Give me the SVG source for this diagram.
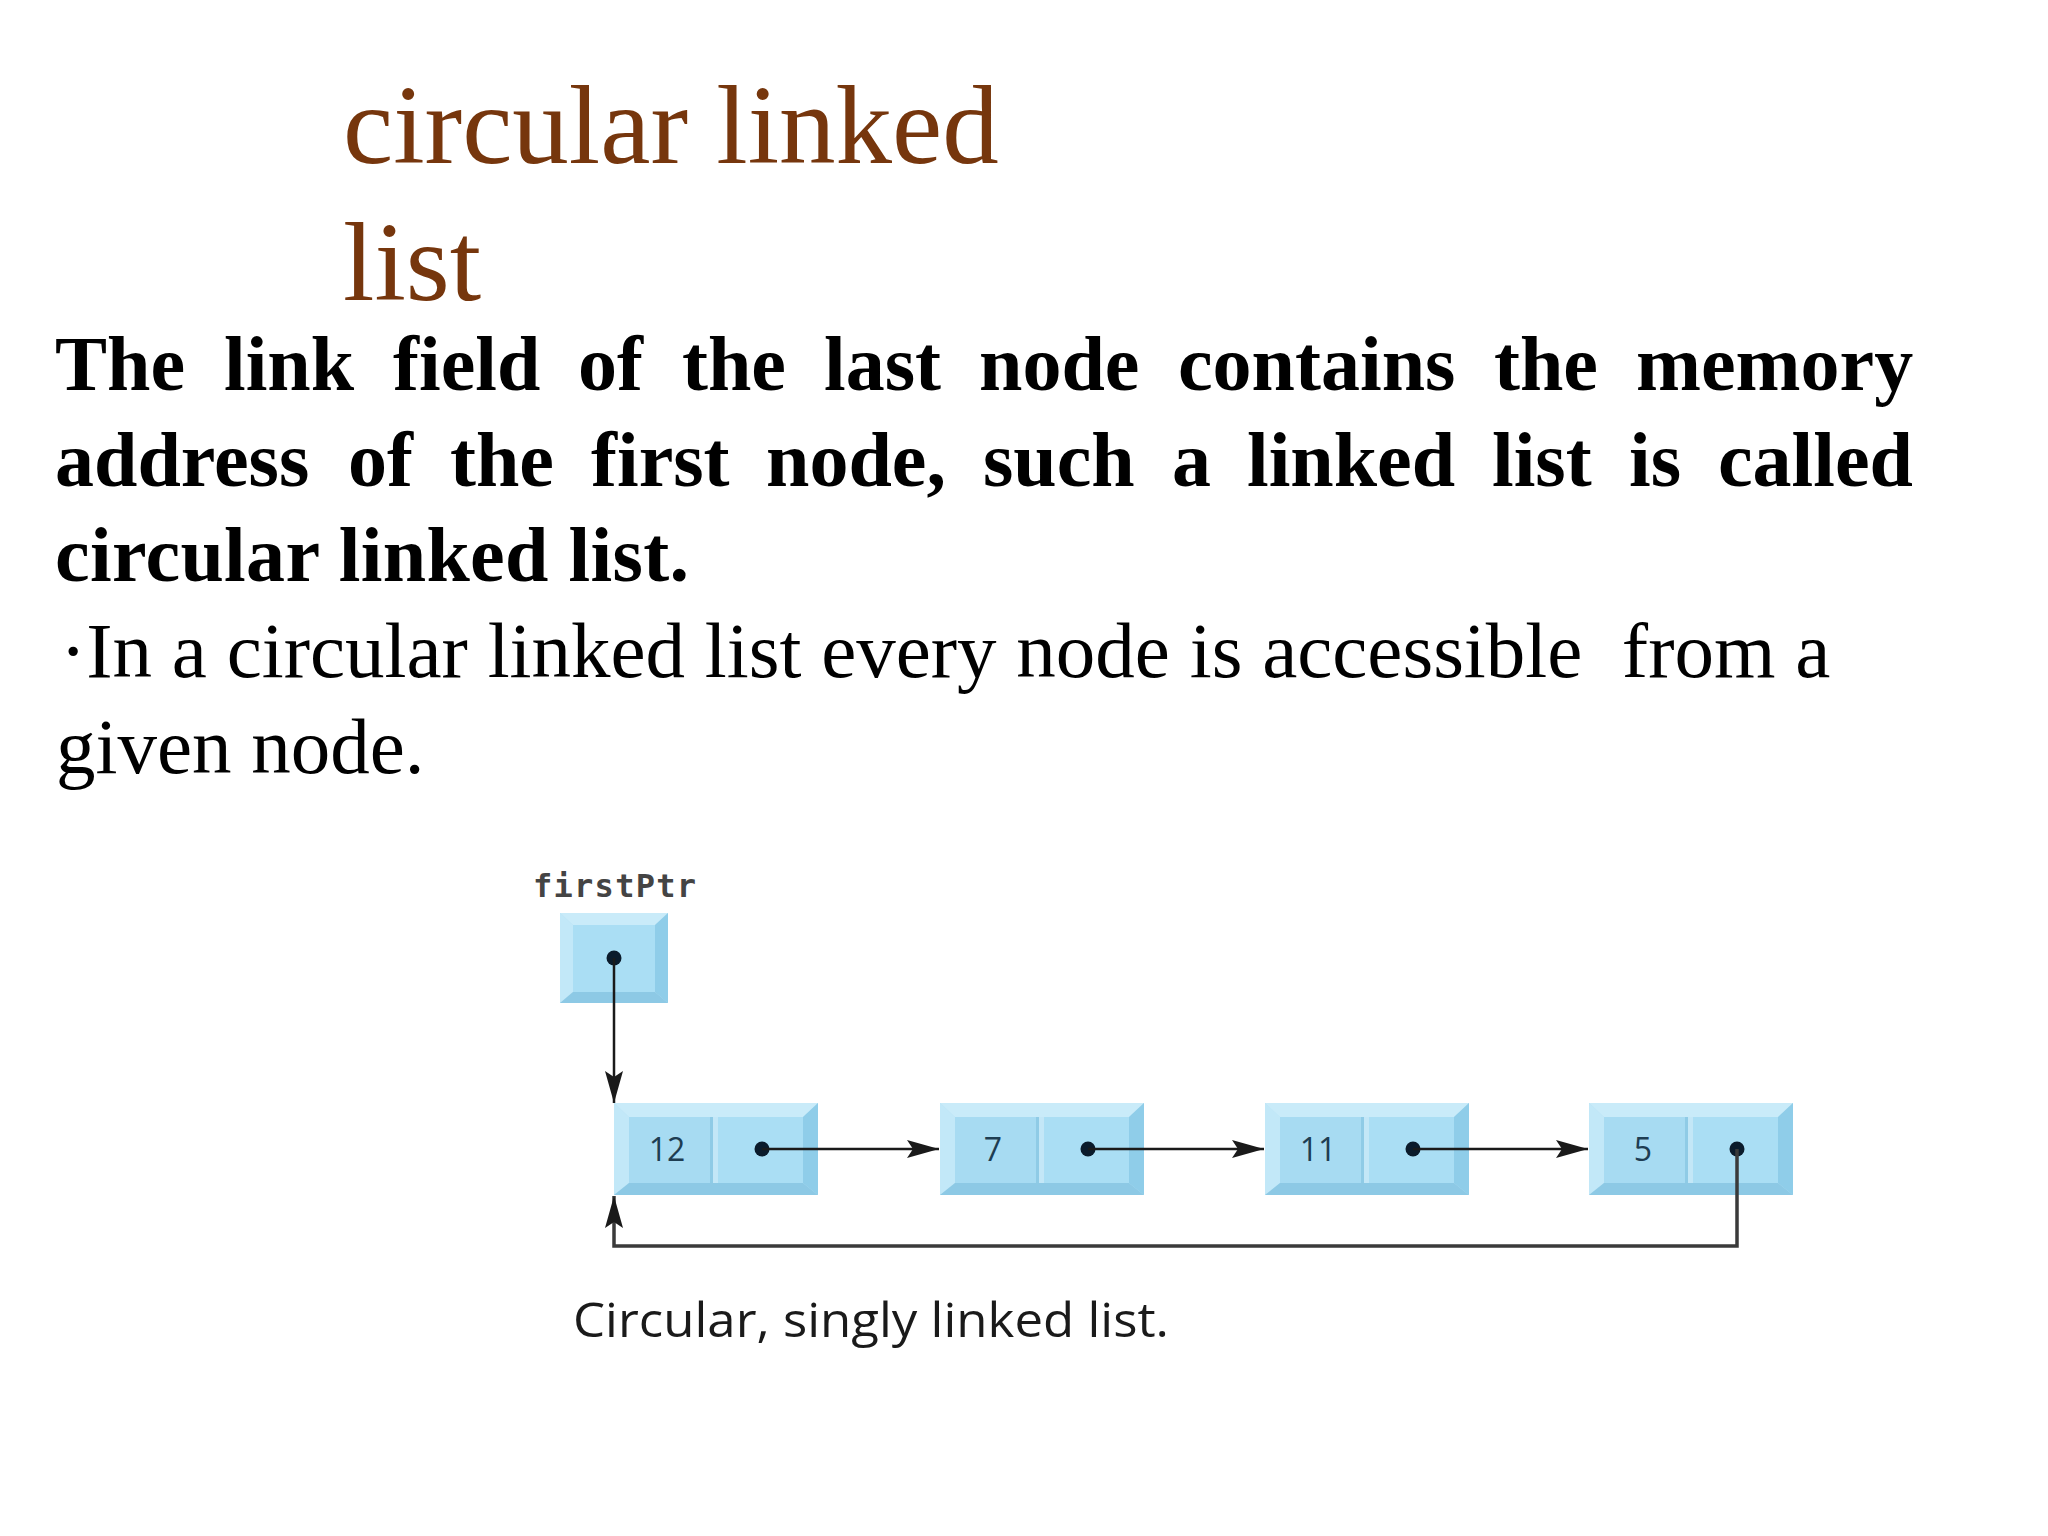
<svg xmlns="http://www.w3.org/2000/svg" xmlns:xlink="http://www.w3.org/1999/xlink" width="2048" height="1536" viewBox="0 0 2048 1536">
<style>
.title{font-family:"Liberation Serif","Times New Roman",serif;font-size:113px;fill:#76360D}
.bold{font-family:"Liberation Serif","Times New Roman",serif;font-size:78px;font-weight:bold;fill:#000}
.body{font-family:"Liberation Serif","Times New Roman",serif;font-size:79px;fill:#000}
.num{font-family:"Open Sans","DejaVu Sans",sans-serif;font-size:32px;fill:#1E3D52;text-anchor:middle}
.mono{font-family:"DejaVu Sans Mono","Liberation Mono",monospace;font-size:32px;font-weight:bold;fill:#444}
.cap{font-family:"Open Sans","DejaVu Sans",sans-serif;font-size:47px;fill:#1a1a1a}
.dot{fill:#0B1B2B}
.link{stroke:#1a1a1a;stroke-width:2.5;fill:none}
.loop{stroke:#3a3a3a;stroke-width:3.5;fill:none}
</style>
<defs>
<marker id="arr" markerUnits="userSpaceOnUse" markerWidth="34" markerHeight="20" refX="32" refY="9" orient="auto">
<path d="M0,0 L32,9 L0,18 L6,9 z" fill="#1a1a1a"/>
</marker>
<g id="frame2">
<rect x="0" y="0" width="204" height="92" fill="#B8E3F6"/>
<polygon points="0,0 204,0 189,14 15,14" fill="#C9EBF9"/>
<polygon points="0,0 15,14 15,80 0,92" fill="#C2E8F8"/>
<polygon points="204,0 204,92 189,80 189,14" fill="#8FCDE9"/>
<polygon points="0,92 15,80 189,80 204,92" fill="#8DC9E5"/>
<rect x="15" y="14" width="81" height="66" fill="#A7DBF2"/>
<rect x="96" y="14" width="3" height="66" fill="#8FCBE6"/>
<rect x="99" y="14" width="5" height="66" fill="#C3E7F7"/>
<rect x="104" y="14" width="85" height="66" fill="#AADEF4"/>
</g>
<g id="frame1">
<rect x="0" y="0" width="108" height="90" fill="#B8E3F6"/>
<polygon points="0,0 108,0 95,12 13,12" fill="#C9EBF9"/>
<polygon points="0,0 13,12 13,79 0,90" fill="#C2E8F8"/>
<polygon points="108,0 108,90 95,79 95,12" fill="#8FCDE9"/>
<polygon points="0,90 13,79 95,79 108,90" fill="#8DC9E5"/>
<rect x="13" y="12" width="82" height="67" fill="#AADEF4"/>
</g>
</defs>
<rect width="2048" height="1536" fill="#fff"/>

<g id="title">
<text class="title" x="343" y="163">circular linked</text>
<text class="title" x="343" y="300">list</text>
</g>

<g id="paragraph">
<text class="bold" y="390"><tspan x="55">The</tspan><tspan x="224">link</tspan><tspan x="393">field</tspan><tspan x="578">of</tspan><tspan x="682">the</tspan><tspan x="824">last</tspan><tspan x="979">node</tspan><tspan x="1178">contains</tspan><tspan x="1494">the</tspan><tspan x="1636">memory</tspan></text>
<text class="bold" y="486"><tspan x="55">address</tspan><tspan x="348">of</tspan><tspan x="450">the</tspan><tspan x="591">first</tspan><tspan x="766">node,</tspan><tspan x="983">such</tspan><tspan x="1172">a</tspan><tspan x="1247">linked</tspan><tspan x="1492">list</tspan><tspan x="1629">is</tspan><tspan x="1718">called</tspan></text>
<text class="bold" x="55" y="581" textLength="634">circular linked list.</text>
<text class="body" x="60" y="677" xml:space="preserve">·In a circular linked list every node is accessible  from a</text>
<text class="body" x="56" y="773">given node.</text>
</g>

<g id="firstPtr">
<text class="mono" x="533" y="897" textLength="163">firstPtr</text>
<use xlink:href="#frame1" href="#frame1" x="560" y="913"/>
<circle class="dot" cx="614" cy="958" r="7.5"/>
</g>

<g id="node-12">
<use xlink:href="#frame2" href="#frame2" x="614" y="1103"/>
<text class="num" x="667" y="1161">12</text>
<circle class="dot" cx="762" cy="1149" r="7.5"/>
</g>
<g id="node-7">
<use xlink:href="#frame2" href="#frame2" x="940" y="1103"/>
<text class="num" x="993" y="1161">7</text>
<circle class="dot" cx="1088" cy="1149" r="7.5"/>
</g>
<g id="node-11">
<use xlink:href="#frame2" href="#frame2" x="1265" y="1103"/>
<text class="num" x="1318" y="1161">11</text>
<circle class="dot" cx="1413" cy="1149" r="7.5"/>
</g>
<g id="node-5">
<use xlink:href="#frame2" href="#frame2" x="1589" y="1103"/>
<text class="num" x="1643" y="1161">5</text>
<circle class="dot" cx="1737" cy="1149" r="7.5"/>
</g>

<g id="connectors">
<line class="link" x1="614" y1="958" x2="614" y2="1103" marker-end="url(#arr)"/>
<line class="link" x1="762" y1="1149" x2="939" y2="1149" marker-end="url(#arr)"/>
<line class="link" x1="1088" y1="1149" x2="1264" y2="1149" marker-end="url(#arr)"/>
<line class="link" x1="1413" y1="1149" x2="1588" y2="1149" marker-end="url(#arr)"/>
<polyline class="loop" points="1737,1149 1737,1246 614,1246 614,1196" marker-end="url(#arr)"/>
</g>

<g id="caption">
<text class="cap" x="573" y="1337" textLength="596" lengthAdjust="spacingAndGlyphs">Circular, singly linked list.</text>
</g>
</svg>
